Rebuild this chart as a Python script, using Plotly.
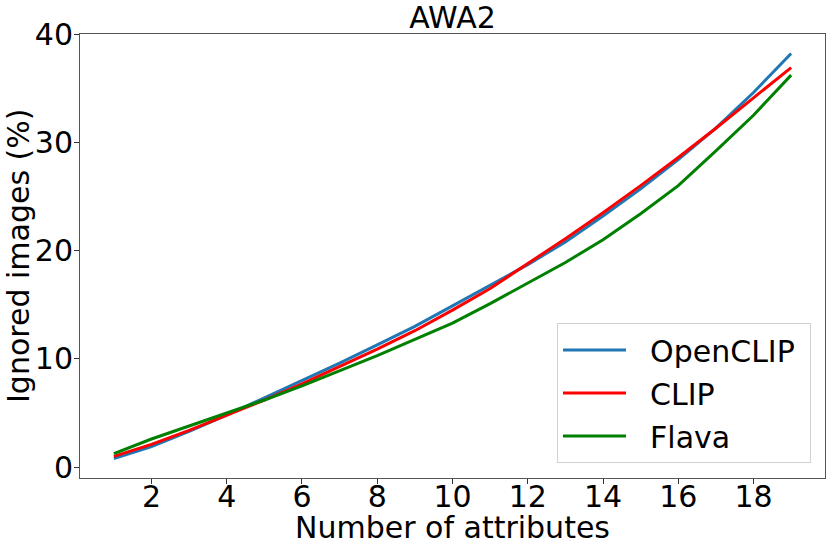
import plotly.graph_objects as go

num_attributes = list(range(1, 20))
openclip = [0.8, 1.9, 3.3, 4.8, 6.4, 8.0, 9.6, 11.3, 13.0, 14.9, 16.8, 18.7, 20.8, 23.2, 25.7, 28.4, 31.3, 34.6, 38.2]
clip = [1.0, 2.1, 3.4, 4.8, 6.2, 7.7, 9.3, 10.9, 12.6, 14.5, 16.5, 18.8, 21.1, 23.5, 26.0, 28.6, 31.3, 34.1, 36.9]
flava = [1.25, 2.6, 3.8, 5.0, 6.2, 7.5, 8.9, 10.3, 11.8, 13.3, 15.1, 17.0, 18.9, 21.0, 23.4, 26.0, 29.2, 32.5, 36.2]

x_ticks = [2, 4, 6, 8, 10, 12, 14, 16, 18]
y_ticks = [0, 10, 20, 30, 40]

NB = "\u00a0"
series = [("OpenCLIP", openclip, "#1f77b4"), ("CLIP", clip, "#ff0000"), ("Flava", flava, "#008000")]

FONT = "DejaVu Sans"
FS = 30
W, H = 831, 549
L, R, T, B = 80, 6, 34, 71
plot_w = W - L - R
plot_h = H - T - B

fig = go.Figure()
for i, (name, vals, color) in enumerate(series):
    label = NB * 2 + name + (NB if i == 0 else "")
    fig.add_trace(go.Scatter(x=num_attributes, y=vals, mode="lines", name=label,
                             line=dict(color=color, width=3), legendgroup=f"g{i}"))

fig.update_layout(
    width=W, height=H,
    margin=dict(l=L, r=R, t=T, b=B, autoexpand=False),
    paper_bgcolor="white", plot_bgcolor="white",
    font=dict(family=FONT, size=FS, color="black"),
    title=dict(text="AWA2", x=(L + W - R) / 2 / W, xanchor="center", y=1 - 17 / H, yanchor="middle",
               font=dict(family=FONT, size=FS, color="black")),
    showlegend=True,
    legend=dict(x=(811 - L) / plot_w, y=(H - B - 463) / plot_h, xanchor="right", yanchor="bottom",
                bgcolor="rgba(255,255,255,0.8)", bordercolor="#d0d0d0", borderwidth=1,
                font=dict(family=FONT, size=FS, color="black"), tracegroupgap=1,
                itemwidth=63),
    annotations=[
        dict(text="Number of attributes", xref="paper", yref="paper", x=0.5, y=-(527 - (H - B)) / plot_h,
             xanchor="center", yanchor="middle", showarrow=False, font=dict(family=FONT, size=FS)),
        dict(text="Ignored images (%)", xref="paper", yref="paper", x=-(L - 18) / plot_w, y=0.5,
             xanchor="center", yanchor="middle", textangle=-90, showarrow=False, font=dict(family=FONT, size=FS)),
    ],
)
fig.update_xaxes(range=[0.1, 19.9], tickvals=x_ticks, ticks="outside", ticklen=5, tickcolor="#333",
                 showline=True, linecolor="#555", linewidth=1, mirror=True, showgrid=False, zeroline=False,
                 automargin=False, ticklabelstandoff=-13, tickfont=dict(family=FONT, size=FS))
fig.update_yaxes(range=[-1.0, 40.0], tickvals=y_ticks, ticks="outside", ticklen=5, tickcolor="#333",
                 showline=True, linecolor="#555", linewidth=1, mirror=True, showgrid=False, zeroline=False,
                 automargin=False, ticklabelstandoff=-5, tickfont=dict(family=FONT, size=FS))

fig.write_html("out.html", config={"displayModeBar": False},
               post_script="document.body.style.margin='0';")
